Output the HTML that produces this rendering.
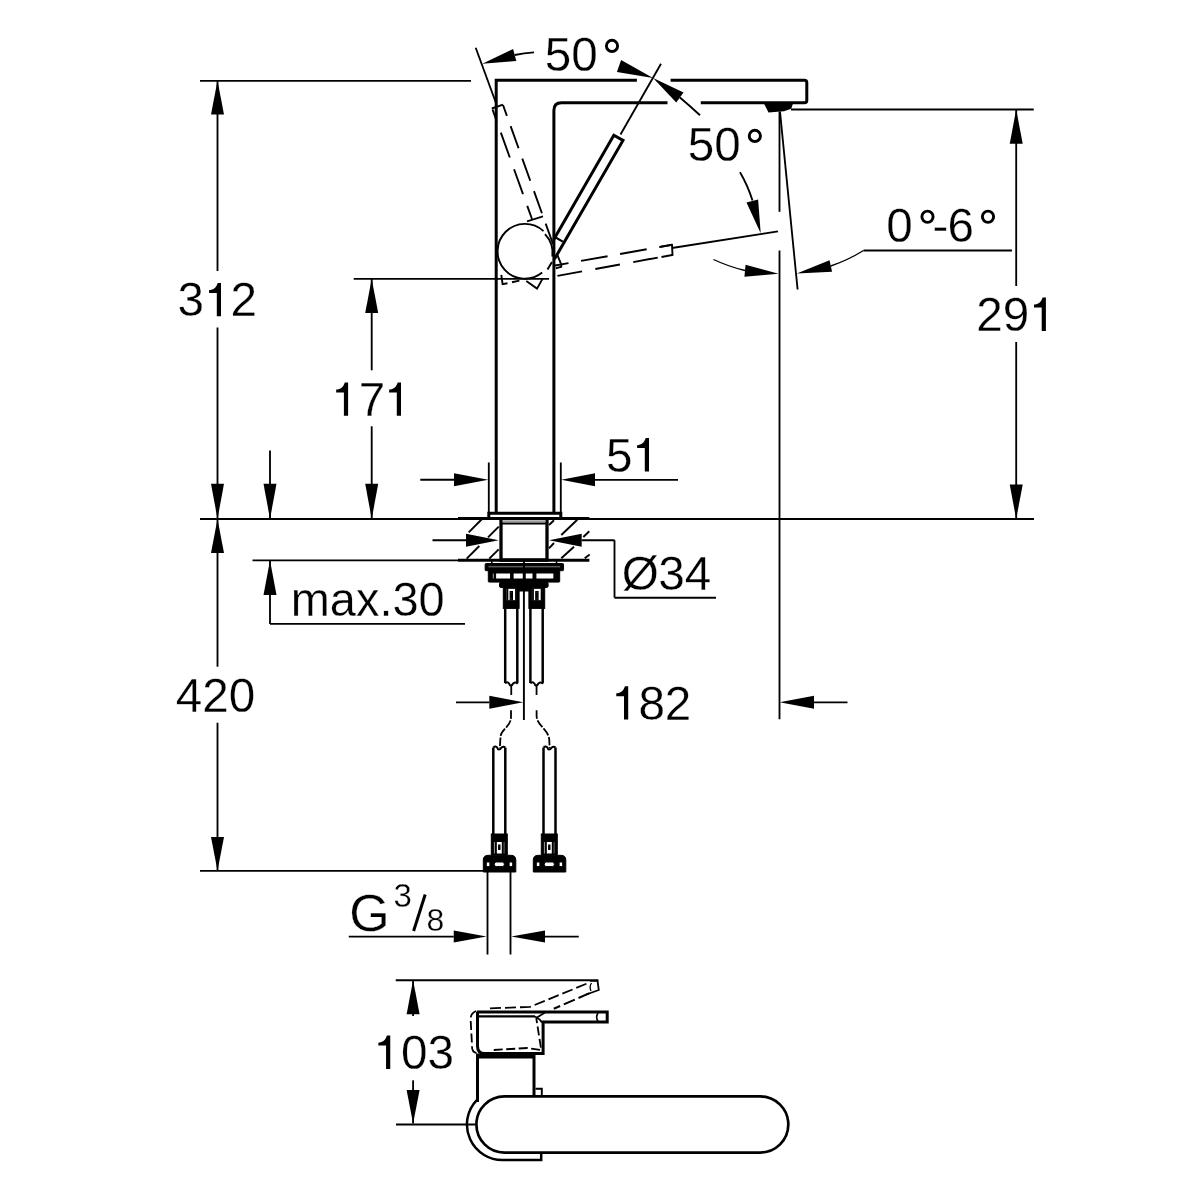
<!DOCTYPE html>
<html><head><meta charset="utf-8"><style>
html,body{margin:0;padding:0;background:#fff;}
svg{display:block;}
text{font-family:"Liberation Sans",sans-serif;fill:#000;stroke:#fff;stroke-width:0.3px;}
</style></head><body>
<svg width="1200" height="1200" viewBox="0 0 1200 1200" stroke="#000" stroke-linecap="butt">
<rect x="0" y="0" width="1200" height="1200" fill="#fff" stroke="none"/>
<g style="will-change:transform">
<line x1="200.00" y1="80.80" x2="471.00" y2="80.80" stroke-width="1.85" />
<line x1="217.50" y1="80.50" x2="217.50" y2="271.00" stroke-width="1.85" />
<line x1="217.50" y1="327.50" x2="217.50" y2="519.00" stroke-width="1.85" />
<polygon points="217.50,80.50 224.00,114.50 211.00,114.50" fill="#000" stroke="none"/>
<polygon points="217.50,519.00 211.00,483.75 224.00,483.75" fill="#000" stroke="none"/>
<text transform="translate(177.60,316.30) scale(0.98,1)" font-size="48.6">3</text>
<path d="M221.00,316.30 V282.90 H217.70 C216.40,287.50 213.40,289.70 209.10,290.00 V292.90 H216.80 V316.30 Z" fill="#000" stroke="none"/>
<text transform="translate(230.52,316.30) scale(0.98,1)" font-size="48.6">2</text>
<line x1="353.70" y1="278.80" x2="549.00" y2="278.80" stroke-width="1.85" />
<line x1="371.70" y1="278.80" x2="371.70" y2="370.30" stroke-width="1.85" />
<line x1="371.70" y1="426.30" x2="371.70" y2="519.00" stroke-width="1.85" />
<polygon points="371.70,278.80 378.20,313.00 365.20,313.00" fill="#000" stroke="none"/>
<polygon points="371.70,519.00 365.20,483.75 378.20,483.75" fill="#000" stroke="none"/>
<path d="M348.10,415.80 V382.40 H344.80 C343.50,387.00 340.50,389.20 336.20,389.50 V392.40 H343.90 V415.80 Z" fill="#000" stroke="none"/>
<text transform="translate(358.86,415.80) scale(0.98,1)" font-size="48.6">7</text>
<path d="M401.00,415.80 V382.40 H397.70 C396.40,387.00 393.40,389.20 389.10,389.50 V392.40 H396.80 V415.80 Z" fill="#000" stroke="none"/>
<line x1="200.00" y1="519.00" x2="458.00" y2="519.00" stroke-width="1.85" />
<line x1="589.00" y1="519.00" x2="1034.00" y2="519.00" stroke-width="1.85" />
<line x1="270.00" y1="450.50" x2="270.00" y2="519.00" stroke-width="1.85" />
<polygon points="270.00,519.00 263.50,483.75 276.50,483.75" fill="#000" stroke="none"/>
<line x1="217.50" y1="519.00" x2="217.50" y2="666.70" stroke-width="1.85" />
<line x1="217.50" y1="722.70" x2="217.50" y2="870.80" stroke-width="1.85" />
<polygon points="217.50,519.00 224.00,553.00 211.00,553.00" fill="#000" stroke="none"/>
<polygon points="217.50,870.80 211.00,837.00 224.00,837.00" fill="#000" stroke="none"/>
<text transform="translate(175.75,711.60) scale(0.98,1)" font-size="48.6">4</text>
<text transform="translate(202.21,711.60) scale(0.98,1)" font-size="48.6">2</text>
<text transform="translate(228.67,711.60) scale(0.98,1)" font-size="48.6">0</text>
<line x1="200.00" y1="870.80" x2="484.00" y2="870.80" stroke-width="1.85" />
<line x1="252.50" y1="560.40" x2="458.00" y2="560.40" stroke-width="1.85" />
<line x1="270.00" y1="560.40" x2="270.00" y2="623.90" stroke-width="1.85" />
<line x1="270.00" y1="623.90" x2="465.00" y2="623.90" stroke-width="1.85" />
<polygon points="270.00,560.40 276.50,595.00 263.50,595.00" fill="#000" stroke="none"/>
<text transform="translate(290.80,616.10) scale(0.965,1)" font-size="48.6">max.30</text>
<line x1="488.80" y1="462.50" x2="488.80" y2="513.00" stroke-width="1.85" />
<line x1="560.80" y1="462.50" x2="560.80" y2="513.00" stroke-width="1.85" />
<line x1="420.30" y1="479.70" x2="454.00" y2="479.70" stroke-width="1.85" />
<polygon points="488.30,479.70 454.00,486.20 454.00,473.20" fill="#000" stroke="none"/>
<line x1="595.00" y1="479.80" x2="678.00" y2="479.80" stroke-width="1.85" />
<polygon points="561.30,479.80 595.00,473.30 595.00,486.30" fill="#000" stroke="none"/>
<text transform="translate(606.00,471.50) scale(0.98,1)" font-size="48.6">5</text>
<path d="M649.00,471.50 V438.10 H645.70 C644.40,442.70 641.40,444.90 637.10,445.20 V448.10 H644.80 V471.50 Z" fill="#000" stroke="none"/>
<line x1="432.50" y1="540.20" x2="466.00" y2="540.20" stroke-width="1.85" />
<polygon points="498.70,540.20 466.00,546.70 466.00,533.70" fill="#000" stroke="none"/>
<polygon points="549.00,540.20 581.70,533.70 581.70,546.70" fill="#000" stroke="none"/>
<line x1="581.70" y1="540.20" x2="614.50" y2="540.20" stroke-width="1.85" />
<line x1="614.50" y1="540.20" x2="614.50" y2="597.70" stroke-width="1.85" />
<line x1="614.50" y1="597.70" x2="716.00" y2="597.70" stroke-width="1.85" />
<text transform="translate(621.70,590.40) scale(0.98,1)" font-size="48.6">Ø</text>
<text transform="translate(658.30,590.40) scale(0.98,1)" font-size="48.6">3</text>
<text transform="translate(684.76,590.40) scale(0.98,1)" font-size="48.6">4</text>
<line x1="779.50" y1="111.70" x2="779.50" y2="211.80" stroke-width="1.85" />
<line x1="779.50" y1="250.50" x2="779.50" y2="719.20" stroke-width="1.85" />
<line x1="456.00" y1="702.30" x2="489.30" y2="702.30" stroke-width="1.85" />
<polygon points="523.30,702.30 489.30,708.80 489.30,695.80" fill="#000" stroke="none"/>
<polygon points="779.60,702.30 814.00,695.80 814.00,708.80" fill="#000" stroke="none"/>
<line x1="814.00" y1="702.30" x2="847.50" y2="702.30" stroke-width="1.85" />
<path d="M628.20,719.60 V686.20 H624.90 C623.60,690.80 620.60,693.00 616.30,693.30 V696.20 H624.00 V719.60 Z" fill="#000" stroke="none"/>
<text transform="translate(638.41,719.60) scale(0.98,1)" font-size="48.6">8</text>
<text transform="translate(664.87,719.60) scale(0.98,1)" font-size="48.6">2</text>
<line x1="792.00" y1="109.50" x2="1033.75" y2="109.50" stroke-width="1.85" />
<line x1="1016.20" y1="109.50" x2="1016.20" y2="286.00" stroke-width="1.85" />
<line x1="1016.20" y1="342.00" x2="1016.20" y2="519.00" stroke-width="1.85" />
<polygon points="1016.20,109.50 1022.70,143.75 1009.70,143.75" fill="#000" stroke="none"/>
<polygon points="1016.20,519.00 1009.70,484.60 1022.70,484.60" fill="#000" stroke="none"/>
<text transform="translate(976.25,330.90) scale(0.98,1)" font-size="48.6">2</text>
<text transform="translate(1002.71,330.90) scale(0.98,1)" font-size="48.6">9</text>
<path d="M1045.90,330.90 V297.50 H1042.60 C1041.30,302.10 1038.30,304.30 1034.00,304.60 V307.50 H1041.70 V330.90 Z" fill="#000" stroke="none"/>
<line x1="487.50" y1="871.00" x2="487.50" y2="954.50" stroke-width="1.85" />
<line x1="510.50" y1="871.00" x2="510.50" y2="954.50" stroke-width="1.85" />
<line x1="348.75" y1="936.60" x2="453.75" y2="936.60" stroke-width="1.85" />
<polygon points="486.50,936.60 453.75,942.60 453.75,930.60" fill="#000" stroke="none"/>
<polygon points="511.20,936.60 545.00,930.60 545.00,942.60" fill="#000" stroke="none"/>
<line x1="545.00" y1="936.60" x2="578.75" y2="936.60" stroke-width="1.85" />
<text transform="translate(349.30,930.50) scale(1,1)" font-size="52">G</text>
<text transform="translate(393.60,907.30) scale(1,1)" font-size="33">3</text>
<text transform="translate(426.60,931.00) scale(1,1)" font-size="32">8</text>
<line x1="413.60" y1="931.00" x2="425.20" y2="894.50" stroke-width="3.0" />
<line x1="395.75" y1="980.20" x2="598.35" y2="980.20" stroke-width="1.85" />
<line x1="413.10" y1="980.20" x2="413.10" y2="1016.00" stroke-width="1.85" />
<line x1="413.10" y1="1080.30" x2="413.10" y2="1123.50" stroke-width="1.85" />
<polygon points="413.10,980.20 419.60,1014.20 406.60,1014.20" fill="#000" stroke="none"/>
<polygon points="413.10,1123.50 406.60,1090.00 419.60,1090.00" fill="#000" stroke="none"/>
<path d="M390.25,1069.00 V1035.60 H386.95 C385.65,1040.20 382.65,1042.40 378.35,1042.70 V1045.60 H386.05 V1069.00 Z" fill="#000" stroke="none"/>
<text transform="translate(401.01,1069.00) scale(0.98,1)" font-size="48.6">0</text>
<text transform="translate(427.47,1069.00) scale(0.98,1)" font-size="48.6">3</text>
<polyline points="496.20,513.30 496.20,80.30 636.90,80.30" fill="none" stroke-width="3.0" />
<path d="M670.6,80.3 H804.5 Q806.8,80.3 806.8,82.6 V100.5 Q806.8,102.8 804.5,102.8 H700.8" fill="none" stroke-width="3.0" />
<path d="M553.9,513.3 V110.3 Q553.9,102.8 561.4,102.8 H667.5" fill="none" stroke-width="3.0" />
<polyline points="488.80,517.50 488.80,513.30 560.80,513.30 560.80,517.50" fill="none" stroke-width="3.0" />
<polygon points="764.00,103.50 793.00,103.50 791.20,108.80 784.00,111.20 768.50,112.40" fill="#000" stroke="none"/>
<line x1="791.00" y1="109.50" x2="792.00" y2="109.50" stroke-width="1.85" />
<polyline points="553.50,240.00 613.80,135.20 623.00,140.40 554.50,259.00" fill="none" stroke-width="3.0" />
<line x1="620.50" y1="134.50" x2="661.00" y2="63.80" stroke-width="1.85" />
<line x1="475.70" y1="47.70" x2="495.70" y2="102.30" stroke-width="1.85" />
<polygon points="482.30,63.70 513.07,48.92 516.33,61.08" fill="#000" stroke="none"/>
<path d="M514.7,55 Q524,53 534,52.3" fill="none" stroke-width="1.85" />
<polygon points="653.10,78.10 616.91,71.89 621.09,60.11" fill="#000" stroke="none"/>
<polygon points="653.10,78.10 683.56,92.44 676.24,102.56" fill="#000" stroke="none"/>
<path d="M679.9,97.5 Q690,106 700,115.2" fill="none" stroke-width="1.85" />
<path d="M740,172.3 Q747.5,185 752.5,200.5" fill="none" stroke-width="1.85" />
<polygon points="760.70,233.30 746.49,202.51 758.11,199.49" fill="#000" stroke="none"/>
<text transform="translate(544.75,71.00) scale(0.98,1)" font-size="48.6">5</text>
<text transform="translate(571.21,71.00) scale(0.98,1)" font-size="48.6">0</text>
<circle cx="612.00" cy="45.90" r="5.6" fill="none" stroke-width="2.9"/>
<text transform="translate(687.75,161.00) scale(0.98,1)" font-size="48.6">5</text>
<text transform="translate(714.21,161.00) scale(0.98,1)" font-size="48.6">0</text>
<circle cx="754.85" cy="135.90" r="5.6" fill="none" stroke-width="2.9"/>
<line x1="672.00" y1="248.00" x2="778.00" y2="231.30" stroke-width="1.85" />
<line x1="780.00" y1="111.70" x2="797.60" y2="289.50" stroke-width="1.85" />
<path d="M713.5,259.5 A161,161 0 0 0 745,270.5" fill="none" stroke-width="1.35"/>
<polygon points="778.60,273.80 744.45,276.67 745.55,264.73" fill="#000" stroke="none"/>
<polygon points="796.80,273.40 829.52,260.14 832.08,271.86" fill="#000" stroke="none"/>
<path d="M830.8,266 A161,161 0 0 0 863.5,250.5" fill="none" stroke-width="1.35"/>
<line x1="863.50" y1="250.50" x2="1012.00" y2="250.50" stroke-width="1.85" />
<text transform="translate(886.25,242.30) scale(0.98,1)" font-size="48.6">0</text>
<circle cx="927.50" cy="216.75" r="5.6" fill="none" stroke-width="2.9"/>
<text transform="translate(932.50,242.30) scale(0.98,1)" font-size="48.6">-</text>
<text transform="translate(947.50,242.30) scale(0.98,1)" font-size="48.6">6</text>
<circle cx="988.00" cy="216.75" r="5.6" fill="none" stroke-width="2.9"/>
<path d="M543.5,231.1 A27.4,27.4 0 1 0 542.2,272.6" fill="none" stroke-width="1.9" />
<path d="M545,234.2 A28,28 0 0 1 552.4,256.5" fill="none" stroke-width="1.9" />
<line x1="553.50" y1="236.30" x2="562.80" y2="241.60" stroke-width="2.2" />
<polyline points="501.30,274.80 502.60,284.20 507.50,283.20" fill="none" stroke-width="1.9" />
<line x1="512.00" y1="282.20" x2="519.40" y2="280.60" stroke-width="1.9" />
<polyline points="526.30,281.00 537.00,288.60 542.50,278.90" fill="none" stroke-width="1.9" />
<line x1="557.50" y1="255.40" x2="560.80" y2="263.30" stroke-width="1.9" />
<polyline points="555.80,268.30 561.25,266.70 561.25,263.30" fill="none" stroke-width="1.9" />
<line x1="547.50" y1="269.60" x2="552.00" y2="262.00" stroke-width="1.9" />
<polyline points="492.50,109.50 532.00,219.00" fill="none" stroke-width="1.9" stroke-dasharray="26.4,12.5" stroke-dashoffset="14.3"/>
<polyline points="503.00,105.00 553.00,244.00" fill="none" stroke-width="1.9" stroke-dasharray="23.5,11" stroke-dashoffset="12"/>
<polyline points="491.80,108.50 503.00,104.60" fill="none" stroke-width="1.9" />
<polyline points="527.00,221.30 543.00,216.30" fill="none" stroke-width="1.9" />
<polyline points="555.00,265.50 672.00,244.80" fill="none" stroke-width="1.9" stroke-dasharray="27,12.7" stroke-dashoffset="13.3"/>
<polyline points="555.00,276.30 672.00,255.00" fill="none" stroke-width="1.9" stroke-dasharray="25,13.5" stroke-dashoffset="36"/>
<polyline points="660.50,246.80 672.00,244.80 672.50,255.00 661.50,257.00" fill="none" stroke-width="1.9" />
<line x1="458.00" y1="518.40" x2="589.40" y2="518.40" stroke-width="3.0" />
<line x1="458.00" y1="560.30" x2="589.40" y2="560.30" stroke-width="3.0" />
<line x1="466.70" y1="558.70" x2="479.30" y2="546.00" stroke-width="1.9" />
<line x1="488.00" y1="537.30" x2="498.70" y2="526.70" stroke-width="1.9" />
<line x1="468.70" y1="532.30" x2="482.00" y2="519.00" stroke-width="1.9" />
<line x1="489.30" y1="558.70" x2="498.70" y2="549.30" stroke-width="1.9" />
<line x1="561.30" y1="558.30" x2="574.00" y2="546.70" stroke-width="1.9" />
<line x1="583.30" y1="537.00" x2="589.30" y2="531.30" stroke-width="1.9" />
<line x1="549.00" y1="548.30" x2="554.00" y2="543.00" stroke-width="1.9" />
<line x1="561.30" y1="535.00" x2="577.30" y2="519.70" stroke-width="1.9" />
<line x1="549.00" y1="525.00" x2="554.00" y2="520.30" stroke-width="1.9" />
<line x1="584.70" y1="558.30" x2="589.70" y2="554.50" stroke-width="1.9" />
<polyline points="501.00,519.50 501.00,560.00 547.00,560.00 547.00,519.50" fill="none" stroke-width="3.3" />
<line x1="502.00" y1="521.20" x2="546.00" y2="521.20" stroke-width="1.2" stroke="#777"/>
<line x1="502.00" y1="523.50" x2="546.00" y2="523.50" stroke-width="2" />
<line x1="491.80" y1="561.00" x2="491.80" y2="564.00" stroke-width="1.6" />
<line x1="556.50" y1="561.00" x2="556.50" y2="564.00" stroke-width="1.6" />
<rect x="485.15" y="563.5" width="78.4" height="7.2" rx="1" fill="#000"/>
<rect x="488" y="565.9" width="72.7" height="1.9" fill="#999"/>
<rect x="488.3" y="570.5" width="71.4" height="11.6" rx="0.8" fill="#000"/>
<rect x="492.3" y="573" width="63" height="6" fill="#fff"/>
<rect x="494.00" y="573" width="1.6" height="6" fill="#000"/>
<rect x="510.60" y="573" width="2.5" height="6" fill="#000"/>
<rect x="523.30" y="573" width="1.9" height="6" fill="#000"/>
<rect x="533.00" y="573" width="2.9" height="6" fill="#000"/>
<rect x="553.90" y="573" width="0.9" height="6" fill="#000"/>
<rect x="499.5" y="582" width="48.6" height="5.5" rx="1.5" fill="#000"/>
<rect x="503.5" y="582.8" width="15.5" height="0.7" fill="#666"/>
<rect x="529" y="582.8" width="15.5" height="0.7" fill="#666"/>
<rect x="518.4" y="587" width="10.5" height="4" fill="#000"/>
<rect x="503.30" y="587.2" width="15.8" height="21.2" fill="#000"/>
<rect x="506.10" y="588.3" width="10.9" height="12.4" fill="#fff"/>
<rect x="507.00" y="589" width="0.8" height="11" fill="#aaa"/>
<rect x="515.60" y="589" width="0.8" height="11" fill="#aaa"/>
<rect x="510.10" y="591.5" width="2.4" height="8.5" fill="#222"/>
<rect x="510.90" y="593.5" width="0.9" height="4" fill="#fff"/>
<rect x="528.90" y="587.2" width="15.8" height="21.2" fill="#000"/>
<rect x="531.70" y="588.3" width="10.9" height="12.4" fill="#fff"/>
<rect x="532.60" y="589" width="0.8" height="11" fill="#aaa"/>
<rect x="541.20" y="589" width="0.8" height="11" fill="#aaa"/>
<rect x="535.70" y="591.5" width="2.4" height="8.5" fill="#222"/>
<rect x="536.50" y="593.5" width="0.9" height="4" fill="#fff"/>
<line x1="505.20" y1="607.00" x2="505.20" y2="683.00" stroke-width="2.5" />
<line x1="517.30" y1="607.00" x2="517.30" y2="683.00" stroke-width="2.5" />
<line x1="530.40" y1="607.00" x2="530.40" y2="683.00" stroke-width="2.5" />
<line x1="542.70" y1="607.00" x2="542.70" y2="683.00" stroke-width="2.5" />
<line x1="523.90" y1="560.00" x2="523.90" y2="720.00" stroke-width="1.9" />
<path d="M505.15,683.5 q2,-2.5 4,0 q0.5,2 1.5,2 q1.5,0 2.5,-2 q2.5,-2 4.5,0.3" fill="none" stroke-width="2" />
<path d="M511.25,685 V695" fill="none" stroke-width="1.8" />
<path d="M530.45,683.5 q2,-2.5 4,0 q0.5,2 1.5,2 q1.5,0 2.5,-2 q2.5,-2 4.5,0.3" fill="none" stroke-width="2" />
<path d="M536.55,685 V695" fill="none" stroke-width="1.8" />
<path d="M511,710.3 V717 C511,727 501,729 500.5,737 L499.8,748" fill="none" stroke-width="1.8" stroke-dasharray="8.5,1.6"/>
<path d="M536.6,710.3 V716 C537,726 548.5,729 549.3,740 L549.6,748" fill="none" stroke-width="1.8" stroke-dasharray="8.5,1.6"/>
<line x1="493.30" y1="747.50" x2="493.30" y2="834.00" stroke-width="2.5" />
<line x1="505.30" y1="747.50" x2="505.30" y2="834.00" stroke-width="2.5" />
<line x1="543.50" y1="747.50" x2="543.50" y2="834.00" stroke-width="2.5" />
<line x1="555.50" y1="747.50" x2="555.50" y2="834.00" stroke-width="2.5" />
<path d="M493.30,747.5 q2.5,-2 4,0.3 q0.5,1.8 1.5,1.8 q1.5,0 2.5,-1.8 q2,-2 4,-0.3" fill="none" stroke-width="2" />
<path d="M543.50,747.5 q2.5,-2 4,0.3 q0.5,1.8 1.5,1.8 q1.5,0 2.5,-1.8 q2,-2 4,-0.3" fill="none" stroke-width="2" />
<rect x="491.30" y="834" width="16" height="21" fill="#000"/>
<rect x="493.80" y="841.5" width="11" height="12.5" fill="#fff"/>
<rect x="495.30" y="842" width="1" height="11.5" fill="#666"/>
<rect x="502.30" y="842" width="1" height="11.5" fill="#666"/>
<rect x="498.60" y="845" width="1.4" height="4.5" fill="#000"/>
<path d="M483.30,872 V860 Q483.30,855.3 488.30,855.3 H510.80 Q515.80,855.3 515.80,860 V872 Z" fill="#000"/>
<rect x="486.30" y="862" width="3.6" height="4.6" fill="#fff"/>
<rect x="494.30" y="862" width="10" height="4.6" rx="2" fill="#fff"/>
<rect x="509.10" y="862" width="3.6" height="4.6" fill="#fff"/>
<rect x="541.30" y="834" width="16" height="21" fill="#000"/>
<rect x="543.80" y="841.5" width="11" height="12.5" fill="#fff"/>
<rect x="545.30" y="842" width="1" height="11.5" fill="#666"/>
<rect x="552.30" y="842" width="1" height="11.5" fill="#666"/>
<rect x="548.60" y="845" width="1.4" height="4.5" fill="#000"/>
<path d="M533.30,872 V860 Q533.30,855.3 538.30,855.3 H560.80 Q565.80,855.3 565.80,860 V872 Z" fill="#000"/>
<rect x="536.30" y="862" width="3.6" height="4.6" fill="#fff"/>
<rect x="544.30" y="862" width="10" height="4.6" rx="2" fill="#fff"/>
<rect x="559.10" y="862" width="3.6" height="4.6" fill="#fff"/>
<path d="M476.9,1011.9 H607.2 V1021.9 H543.1 V1053.5 H484.5 Q477.5,1053.5 477.5,1046 V1011.9" fill="none" stroke-width="3.0" />
<line x1="477.50" y1="1016.30" x2="535.00" y2="1016.30" stroke-width="2.2" />
<path d="M535,1016.5 Q540,1019 542,1022.5" fill="none" stroke-width="1.8" />
<path d="M545,1012.5 L537,1017.5" fill="none" stroke-width="1.8" />
<path d="M598.2,1012.8 q-3.2,4.6 0,8.6" fill="none" stroke-width="1.6" />
<line x1="477.50" y1="1056.50" x2="534.00" y2="1056.50" stroke-width="4" />
<polyline points="477.50,1102.00 477.50,1055.00 534.00,1055.00 534.00,1096.00" fill="none" stroke-width="3.0" />
<polyline points="535.50,1088.80 541.80,1088.80 541.80,1095.50" fill="none" stroke-width="1.9" />
<path d="M476.5,1053 Q471.5,1052 472,1045 L470.6,1019 Q470.6,1012.5 477.5,1010.6" fill="none" stroke-width="1.8" stroke-dasharray="9,3.5"/>
<path d="M490,1008.3 L530,1006.9 L590,982.3" fill="none" stroke-width="1.8" stroke-dasharray="11,4"/>
<path d="M590,980.8 H597.5 L598.8,990 L585,995" fill="none" stroke-width="1.8" />
<path d="M591.5,983 q-2.5,4 -0.5,8" fill="none" stroke-width="1.3" />
<path d="M589.5,993.2 L553.75,1008.75" fill="none" stroke-width="2.0" stroke-dasharray="12,4"/>
<path d="M493.75,1050 L527.5,1048 L541.25,1050 L536.25,1018" fill="none" stroke-width="1.8" stroke-dasharray="9,3.5"/>
<rect x="476.4" y="1096.4" width="311.9" height="56.2" rx="28.1" ry="28.1" fill="none" stroke-width="2.7"/>
<path d="M477,1099.8 A35.5,35.5 0 0 0 504.5,1160 H541.2 V1152.8" fill="none" stroke-width="2.5" />
<line x1="396.00" y1="1124.50" x2="475.00" y2="1124.50" stroke-width="1.85" />
</g>
</svg></body></html>
